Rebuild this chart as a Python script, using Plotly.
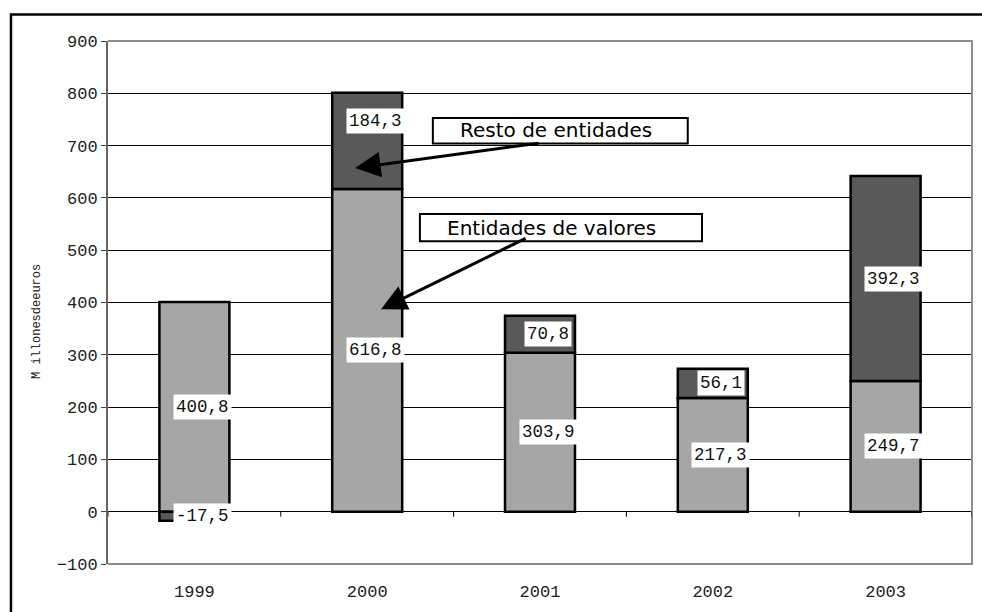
import plotly.graph_objects as go

# Annual results (millions of euros)
years = ["1999", "2000", "2001", "2002", "2003"]
entidades_valores = [400.8, 616.8, 303.9, 217.3, 249.7]
resto_entidades = [-17.5, 184.3, 70.8, 56.1, 392.3]

y_ticks = list(range(-100, 901, 100))

LIGHT = "#a6a6a6"
DARK = "#595959"
MONO = "Liberation Mono, Courier New, monospace"
SANS = "DejaVu Sans, Verdana, sans-serif"


def fmt(v):
    return f"{v:.1f}".replace(".", ",")


fig = go.Figure()
fig.add_trace(go.Bar(
    x=years, y=entidades_valores, name="Entidades de valores",
    marker=dict(color=LIGHT, line=dict(color="black", width=2.5)),
))
fig.add_trace(go.Bar(
    x=years, y=resto_entidades, name="Resto de entidades",
    marker=dict(color=DARK, line=dict(color="black", width=2.5)),
))

# value labels on white boxes, centred on each segment
# (x given as category index: year strings would be read as numbers)
annotations = []
for i, (yr, a, b) in enumerate(zip(years, entidades_valores, resto_entidades)):
    annotations.append(dict(
        x=i, y=a / 2, xref="x", yref="y", text=fmt(a), showarrow=False,
        xanchor="center", yanchor="middle",
        xshift=8, bgcolor="white", borderpad=2,
        font=dict(family=MONO, size=17.5, color="#111"),
    ))
    yc = b / 2 if b < 0 else a + b / 2
    annotations.append(dict(
        x=i, y=yc, xref="x", yref="y", text=fmt(b), showarrow=False,
        xanchor="center", yanchor="middle",
        xshift=8, yshift=20 if yr == "2000" else 0,
        bgcolor="white", borderpad=2,
        font=dict(family=MONO, size=17.5, color="#111"),
    ))

# series callouts with arrows pointing into the 2000 bar
annotations += [
    dict(x=0.5185, y=0.829, xref="paper", yref="paper", text="Resto de entidades",
         xanchor="center", yanchor="middle",
         showarrow=False, font=dict(family=SANS, size=20, color="black")),
    dict(x=0.5133, y=0.643, xref="paper", yref="paper", text="Entidades de valores",
         xanchor="center", yanchor="middle",
         showarrow=False, font=dict(family=SANS, size=20, color="black")),
    dict(x=0.93, y=657, xref="x", yref="y", ax=2.0, ay=705,
         axref="x", ayref="y", text="", showarrow=True,
         arrowhead=2, arrowsize=1.7, arrowwidth=3, arrowcolor="black"),
    dict(x=1.08, y=387, xref="x", yref="y", ax=1.925, ay=524,
         axref="x", ayref="y", text="", showarrow=True,
         arrowhead=2, arrowsize=1.7, arrowwidth=3, arrowcolor="black"),
    dict(x=-0.082, y=0.463, xref="paper", yref="paper", text="M illonesdeeuros",
         xanchor="center", yanchor="middle",
         textangle=-90, showarrow=False, font=dict(family=MONO, size=12, color="#222")),
]

shapes = [
    # callout boxes
    dict(type="rect", xref="paper", yref="paper", x0=0.376, x1=0.671, y0=0.804, y1=0.853,
         line=dict(color="black", width=2), fillcolor="rgba(0,0,0,0)", layer="above"),
    dict(type="rect", xref="paper", yref="paper", x0=0.361, x1=0.6875, y0=0.617, y1=0.669,
         line=dict(color="black", width=2), fillcolor="rgba(0,0,0,0)", layer="above"),
    # plot frame (top, right, bottom)
    dict(type="path", xref="paper", yref="paper", path="M 0,1 L 1,1 L 1,0 L 0,0",
         line=dict(color="#8c8c8c", width=2), layer="above"),
    # outer chart border
    dict(type="path", xref="paper", yref="paper",
         path="M -0.1123,-0.2 L -0.1123,1.0505 L 1.05,1.0505",
         line=dict(color="black", width=2.5), layer="above"),
]
# category separator ticks hanging below the zero line
for i in range(len(years) + 1):
    shapes.append(dict(
        type="line", xref="x", yref="y", x0=i - 0.5, x1=i - 0.5,
        ysizemode="pixel", yanchor=0, y0=0, y1=-5,
        line=dict(color="black", width=1), layer="above",
    ))

fig.update_layout(
    barmode="relative",
    bargap=0.595,
    width=982, height=612,
    margin=dict(l=108, r=10, t=41, b=46),
    paper_bgcolor="white", plot_bgcolor="white",
    showlegend=False,
    annotations=annotations,
    shapes=shapes,
    xaxis=dict(
        type="category", categoryorder="array", categoryarray=years,
        range=[-0.5, len(years) - 0.5],
        showgrid=False, zeroline=False, showline=False,
        ticks="outside", ticklen=12, tickcolor="rgba(0,0,0,0)",
        tickfont=dict(family=MONO, size=17, color="#222"),
    ),
    yaxis=dict(
        range=[-100, 900], tickmode="array", tickvals=y_ticks,
        showgrid=True, gridcolor="black", gridwidth=1,
        zeroline=True, zerolinecolor="black", zerolinewidth=1,
        showline=True, linecolor="#666666", linewidth=2,
        ticks="outside", ticklen=5, tickcolor="#444", tickwidth=1,
        tickfont=dict(family=MONO, size=17, color="#222"),
    ),
)

fig.write_html("out.html")
